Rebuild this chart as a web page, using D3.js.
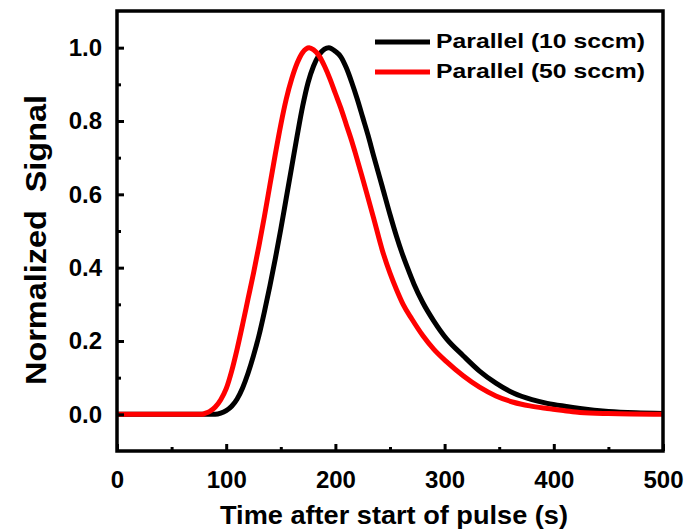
<!DOCTYPE html>
<html>
<head>
<meta charset="utf-8">
<script src="https://cdn.jsdelivr.net/npm/d3@7"></script>
<style>
  body { margin: 0; background: #fff; }
  text { font-family: "Liberation Sans", Arial, sans-serif; font-weight: bold; fill: #000; }
</style>
</head>
<body>
<div id="output"></div>
<script>
// series: [time (s), normalized signal]
const flow10 = [
  [0, 0], [50, 0], [90, 0], [95, 0.003], [100, 0.01], [105, 0.022], [110, 0.042], [115, 0.072],
  [120, 0.112], [125, 0.16], [130, 0.215], [135, 0.28], [140, 0.35], [145, 0.425], [150, 0.505],
  [155, 0.59], [160, 0.675], [165, 0.76], [170, 0.84], [175, 0.905], [180, 0.95], [185, 0.98],
  [190, 0.996], [194, 1.0], [200, 0.99], [205, 0.975], [210, 0.945], [215, 0.905], [220, 0.86],
  [225, 0.81], [230, 0.76], [235, 0.705], [243, 0.62], [250, 0.545], [256, 0.485], [261, 0.44],
  [266, 0.4], [272, 0.355], [280, 0.305], [290, 0.255], [302, 0.205], [317, 0.16], [332, 0.118],
  [347, 0.085], [363, 0.058], [380, 0.04], [394, 0.03], [410, 0.022], [424, 0.016],
  [450, 0.008], [475, 0.004], [500, 0.002]
];
const flow50 = [
  [0, 0], [50, 0], [78, 0], [80, 0.002], [85, 0.008], [90, 0.02], [95, 0.04], [100, 0.07],
  [105, 0.118], [110, 0.178], [115, 0.245], [120, 0.315], [125, 0.385], [130, 0.46], [135, 0.54],
  [140, 0.625], [145, 0.71], [150, 0.79], [155, 0.86], [160, 0.915], [165, 0.958], [170, 0.987],
  [176, 1.0], [180, 0.994], [185, 0.978], [190, 0.95], [195, 0.915], [200, 0.875], [205, 0.835],
  [210, 0.79], [215, 0.745], [218, 0.715], [224, 0.653], [229, 0.6], [235, 0.535], [243, 0.447],
  [250, 0.385], [256, 0.34], [262, 0.3], [270, 0.26], [280, 0.215], [290, 0.178], [302, 0.143],
  [317, 0.105], [332, 0.074], [347, 0.05], [363, 0.033], [378, 0.023], [394, 0.016],
  [410, 0.01], [424, 0.005], [450, 0.002], [500, 0]
];
const seriesNames = ["Parallel (10 sccm)", "Parallel (50 sccm)"];
const seriesColors = ["#000000", "#ff0000"];
const xTicks = [0, 100, 200, 300, 400, 500];
const xMinor = [50, 150, 250, 350, 450];
const yTicks = [0, 0.2, 0.4, 0.6, 0.8, 1.0];
const yMinor = [0.1, 0.3, 0.5, 0.7, 0.9];

const width = 689, height = 531;
const plotLeft = 117, plotRight = 663, plotTop = 11, plotBottom = 451;

const svg = d3.select("#output").append("svg")
  .attr("width", width)
  .attr("height", height);

const x = d3.scaleLinear().domain([0, 500]).range([plotLeft, plotRight]);
const y = d3.scaleLinear().domain([-0.1, 1.1]).range([plotBottom, plotTop]);

// curves
const line = d3.line()
  .x(d => x(d[0]))
  .y(d => y(d[1]))
  .curve(d3.curveMonotoneX);

svg.append("g")
  .attr("fill", "none")
  .attr("stroke-width", 5)
  .attr("stroke-linejoin", "round")
  .selectAll("path")
  .data([flow10, flow50])
  .join("path")
  .attr("stroke", (d, i) => seriesColors[i])
  .attr("d", line);

// axes with inward ticks
const xAxis = svg.append("g")
  .attr("transform", `translate(0,${plotBottom})`)
  .call(d3.axisBottom(x).tickValues(xTicks).tickSize(-7).tickPadding(15).tickFormat(d3.format("d")));
svg.append("g")
  .attr("transform", `translate(0,${plotBottom})`)
  .call(d3.axisBottom(x).tickValues(xMinor).tickSize(-4).tickFormat(""));

const yAxis = svg.append("g")
  .attr("transform", `translate(${plotLeft},0)`)
  .call(d3.axisLeft(y).tickValues(yTicks).tickSize(-7).tickPadding(15).tickFormat(d3.format(".1f")));
svg.append("g")
  .attr("transform", `translate(${plotLeft},0)`)
  .call(d3.axisLeft(y).tickValues(yMinor).tickSize(-4).tickFormat(""));

svg.selectAll(".tick line").attr("stroke", "#000").attr("stroke-width", 3);
svg.selectAll(".domain").remove();
svg.selectAll(".tick text")
  .attr("font-size", 24)
  .attr("font-family", "Liberation Sans, Arial, sans-serif")
  .attr("font-weight", "bold");
xAxis.selectAll(".tick text").attr("dy", "0.9em");

// frame
svg.append("rect")
  .attr("x", plotLeft).attr("y", plotTop)
  .attr("width", plotRight - plotLeft).attr("height", plotBottom - plotTop)
  .attr("fill", "none").attr("stroke", "#000").attr("stroke-width", 3.5);

// axis titles
svg.append("text")
  .attr("x", 394).attr("y", 524)
  .attr("text-anchor", "middle")
  .attr("font-size", 26)
  .attr("textLength", 348).attr("lengthAdjust", "spacingAndGlyphs")
  .text("Time after start of pulse (s)");

svg.append("text")
  .attr("transform", "translate(46,240) rotate(-90)")
  .attr("text-anchor", "middle")
  .attr("font-size", 29)
  .style("white-space", "pre")
  .attr("textLength", 290).attr("lengthAdjust", "spacingAndGlyphs")
  .text("Normalized  Signal");

// legend
const legend = svg.append("g")
  .selectAll("g")
  .data(seriesNames)
  .join("g")
  .attr("transform", (d, i) => `translate(375,${42 + i * 30})`);
legend.append("line")
  .attr("x1", 0).attr("x2", 55)
  .attr("stroke", (d, i) => seriesColors[i])
  .attr("stroke-width", 5);
legend.append("text")
  .attr("x", 61).attr("y", 6)
  .attr("font-size", 21)
  .attr("textLength", 209).attr("lengthAdjust", "spacingAndGlyphs")
  .text(d => d);
</script>
</body>
</html>
